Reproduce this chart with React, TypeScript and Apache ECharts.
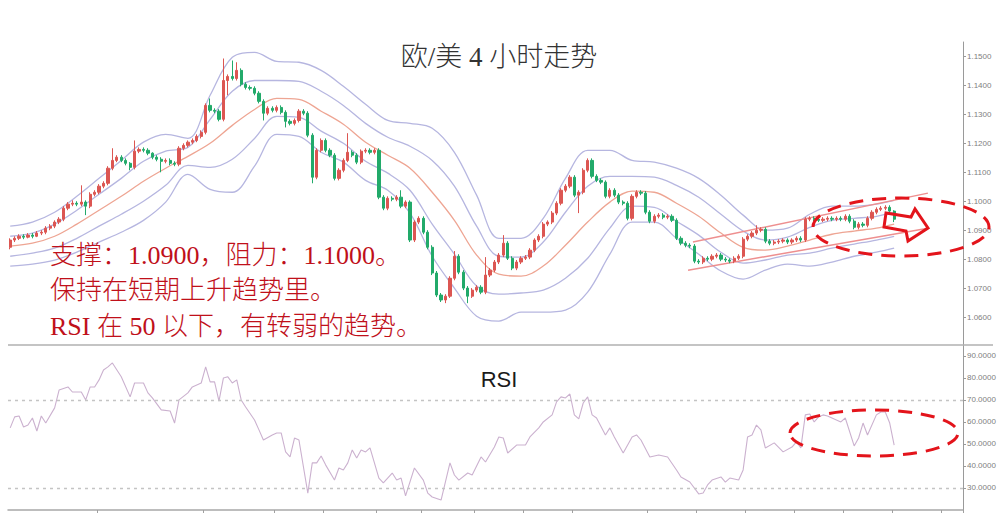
import React, { useEffect, useRef } from "react";
import * as echarts from "echarts";

// [open, close, low, high]
const candles: number[][] = [
  [1.0841,1.0866,1.0834,1.0872],[1.0866,1.0872,1.0859,1.0879],[1.0872,1.0879,1.0866,1.0886],[1.0879,1.0876,1.0869,1.0886],
  [1.0876,1.0883,1.0872,1.0890],[1.0883,1.0879,1.0872,1.0890],[1.0879,1.0890,1.0876,1.0897],[1.0890,1.0893,1.0883,1.0900],
  [1.0893,1.0907,1.0886,1.0914],[1.0907,1.0914,1.0900,1.0921],[1.0914,1.0928,1.0907,1.0934],[1.0928,1.0938,1.0921,1.0945],
  [1.0938,1.0976,1.0931,1.0983],[1.0976,1.0990,1.0969,1.0997],[1.0990,1.0993,1.0983,1.1003],[1.0993,1.0990,1.0983,1.1000],
  [1.0990,1.0997,1.0983,1.1055],[1.0997,1.0983,1.0952,1.1003],[1.0983,1.1024,1.0976,1.1031],[1.1024,1.1031,1.1017,1.1038],
  [1.1031,1.1052,1.1024,1.1059],[1.1052,1.1062,1.1045,1.1069],[1.1062,1.1114,1.1055,1.1121],[1.1114,1.1141,1.1107,1.1183],
  [1.1141,1.1152,1.1135,1.1159],[1.1152,1.1141,1.1135,1.1159],[1.1141,1.1131,1.1124,1.1148],[1.1131,1.1117,1.1107,1.1135],
  [1.1117,1.1173,1.1110,1.1210],[1.1173,1.1179,1.1166,1.1186],[1.1179,1.1176,1.1169,1.1186],[1.1176,1.1166,1.1159,1.1183],
  [1.1166,1.1152,1.1145,1.1169],[1.1152,1.1145,1.1138,1.1159],[1.1145,1.1138,1.1100,1.1152],[1.1138,1.1141,1.1131,1.1148],
  [1.1141,1.1131,1.1124,1.1148],[1.1131,1.1128,1.1121,1.1138],[1.1128,1.1183,1.1121,1.1190],[1.1183,1.1193,1.1176,1.1200],
  [1.1193,1.1204,1.1186,1.1210],[1.1204,1.1210,1.1197,1.1217],[1.1210,1.1224,1.1204,1.1231],[1.1224,1.1238,1.1217,1.1245],
  [1.1238,1.1331,1.1231,1.1338],[1.1331,1.1314,1.1307,1.1355],[1.1314,1.1311,1.1304,1.1321],[1.1311,1.1283,1.1276,1.1318],
  [1.1283,1.1417,1.1276,1.1493],[1.1417,1.1431,1.1366,1.1438],[1.1431,1.1424,1.1417,1.1486],[1.1424,1.1452,1.1417,1.1480],
  [1.1452,1.1404,1.1397,1.1459],[1.1404,1.1393,1.1386,1.1411],[1.1393,1.1390,1.1383,1.1400],[1.1390,1.1373,1.1366,1.1397],
  [1.1373,1.1345,1.1338,1.1380],[1.1345,1.1304,1.1279,1.1352],[1.1304,1.1321,1.1297,1.1328],[1.1321,1.1314,1.1307,1.1328],
  [1.1314,1.1324,1.1307,1.1331],[1.1324,1.1307,1.1300,1.1331],[1.1307,1.1276,1.1255,1.1314],[1.1276,1.1269,1.1262,1.1283],
  [1.1269,1.1279,1.1262,1.1286],[1.1279,1.1311,1.1272,1.1318],[1.1311,1.1304,1.1297,1.1318],[1.1304,1.1228,1.1221,1.1311],
  [1.1228,1.1083,1.1062,1.1235],[1.1083,1.1176,1.1076,1.1183],[1.1176,1.1210,1.1169,1.1217],[1.1210,1.1176,1.1169,1.1217],
  [1.1176,1.1159,1.1152,1.1183],[1.1159,1.1079,1.1072,1.1166],[1.1079,1.1107,1.1072,1.1114],[1.1107,1.1141,1.1100,1.1148],
  [1.1141,1.1169,1.1135,1.1235],[1.1169,1.1159,1.1152,1.1176],[1.1159,1.1135,1.1128,1.1166],[1.1135,1.1173,1.1128,1.1179],
  [1.1173,1.1176,1.1166,1.1183],[1.1176,1.1169,1.1162,1.1183],[1.1169,1.1176,1.1162,1.1183],[1.1176,1.1014,1.1007,1.1183],
  [1.1014,1.0976,1.0969,1.1021],[1.0976,1.1010,1.0969,1.1017],[1.1010,1.1007,1.1000,1.1017],[1.1007,1.1014,1.1000,1.1021],
  [1.1014,1.0983,1.0976,1.1038],[1.0983,1.0997,1.0976,1.1003],[1.0997,1.0866,1.0859,1.1003],[1.0866,1.0928,1.0859,1.0934],
  [1.0928,1.0941,1.0921,1.0948],[1.0941,1.0893,1.0886,1.0948],[1.0893,1.0841,1.0834,1.0900],[1.0841,1.0752,1.0745,1.0848],
  [1.0752,1.0676,1.0669,1.0759],[1.0676,1.0659,1.0652,1.0683],[1.0659,1.0672,1.0648,1.0679],[1.0672,1.0734,1.0666,1.0741],
  [1.0734,1.0810,1.0727,1.0828],[1.0810,1.0755,1.0748,1.0817],[1.0755,1.0700,1.0693,1.0762],[1.0700,1.0672,1.0648,1.0707],
  [1.0672,1.0693,1.0666,1.0700],[1.0693,1.0703,1.0686,1.0710],[1.0703,1.0686,1.0679,1.0710],[1.0686,1.0745,1.0679,1.0807],
  [1.0745,1.0762,1.0738,1.0769],[1.0762,1.0790,1.0755,1.0797],[1.0790,1.0814,1.0783,1.0821],[1.0814,1.0855,1.0807,1.0883],
  [1.0855,1.0803,1.0797,1.0862],[1.0803,1.0769,1.0762,1.0810],[1.0769,1.0790,1.0762,1.0797],[1.0790,1.0803,1.0783,1.0810],
  [1.0803,1.0807,1.0797,1.0814],[1.0807,1.0831,1.0800,1.0838],[1.0831,1.0866,1.0824,1.0872],[1.0866,1.0879,1.0859,1.0886],
  [1.0879,1.0921,1.0872,1.0928],[1.0921,1.0928,1.0914,1.0934],[1.0928,1.0959,1.0921,1.0966],[1.0959,1.0993,1.0952,1.1000],
  [1.0993,1.1038,1.0986,1.1045],[1.1038,1.1052,1.1031,1.1059],[1.1052,1.1083,1.1045,1.1090],[1.1083,1.1021,1.1014,1.1090],
  [1.1021,1.1031,1.0959,1.1038],[1.1031,1.1107,1.1024,1.1114],[1.1107,1.1141,1.1100,1.1148],[1.1141,1.1086,1.1079,1.1148],
  [1.1086,1.1072,1.1066,1.1093],[1.1072,1.1066,1.1059,1.1079],[1.1066,1.1017,1.1010,1.1072],[1.1017,1.1038,1.1010,1.1045],
  [1.1038,1.1021,1.1014,1.1045],[1.1021,1.0997,1.0990,1.1028],[1.0997,1.0993,1.0986,1.1003],[1.0993,1.0941,1.0934,1.1000],
  [1.0941,1.1017,1.0934,1.1024],[1.1017,1.1031,1.1010,1.1038],[1.1031,1.1028,1.1021,1.1038],[1.1028,1.0962,1.0955,1.1035],
  [1.0962,1.0931,1.0924,1.0969],[1.0931,1.0948,1.0924,1.0955],[1.0948,1.0952,1.0941,1.0959],[1.0952,1.0945,1.0938,1.0959],
  [1.0945,1.0948,1.0938,1.0955],[1.0948,1.0934,1.0928,1.0955],[1.0934,1.0872,1.0866,1.0941],[1.0872,1.0855,1.0848,1.0879],
  [1.0855,1.0848,1.0841,1.0862],[1.0848,1.0845,1.0838,1.0855],[1.0845,1.0793,1.0786,1.0852],[1.0793,1.0790,1.0783,1.0800],
  [1.0790,1.0803,1.0783,1.0810],[1.0803,1.0800,1.0793,1.0810],[1.0800,1.0810,1.0793,1.0817],[1.0810,1.0814,1.0803,1.0821],
  [1.0814,1.0800,1.0793,1.0821],[1.0800,1.0797,1.0790,1.0807],[1.0797,1.0793,1.0786,1.0803],[1.0793,1.0803,1.0786,1.0810],
  [1.0803,1.0810,1.0797,1.0817],[1.0810,1.0869,1.0803,1.0876],[1.0869,1.0879,1.0862,1.0886],[1.0879,1.0890,1.0872,1.0897],
  [1.0890,1.0900,1.0883,1.0917],[1.0900,1.0903,1.0893,1.0910],[1.0903,1.0862,1.0855,1.0910],[1.0862,1.0855,1.0848,1.0869],
  [1.0855,1.0859,1.0848,1.0866],[1.0859,1.0862,1.0852,1.0869],[1.0862,1.0866,1.0855,1.0872],[1.0866,1.0859,1.0852,1.0872],
  [1.0859,1.0866,1.0852,1.0872],[1.0866,1.0872,1.0859,1.0879],[1.0872,1.0866,1.0859,1.0879],[1.0866,1.0938,1.0859,1.0945],
  [1.0938,1.0941,1.0931,1.0948],[1.0941,1.0938,1.0931,1.0948],[1.0938,1.0934,1.0928,1.0945],[1.0934,1.0938,1.0928,1.0945],
  [1.0938,1.0941,1.0931,1.0948],[1.0941,1.0938,1.0931,1.0948],[1.0938,1.0941,1.0931,1.0948],[1.0941,1.0938,1.0931,1.0948],
  [1.0938,1.0948,1.0931,1.0955],[1.0948,1.0931,1.0924,1.0955],[1.0931,1.0910,1.0903,1.0938],[1.0910,1.0921,1.0903,1.0928],
  [1.0921,1.0917,1.0910,1.0928],[1.0917,1.0941,1.0910,1.0948],[1.0941,1.0962,1.0934,1.0969],[1.0962,1.0972,1.0955,1.0979],
  [1.0972,1.0976,1.0966,1.0983],[1.0976,1.0979,1.0969,1.0986],[1.0979,1.0966,1.0959,1.0986],[1.0966,1.0938,1.0928,1.0969],
];

// Bollinger band readings at every 5th bar
const bandIdx = [0,5,10,15,20,25,30,35,40,45,50,55,60,65,70,75,80,85,90,95,100,105,110,115,120,125,130,135,140,145,150,155,160,165,170,175,180,185,190,195,199];
const upper2 = [1.0914,1.0928,1.0962,1.1017,1.1079,1.1141,1.1204,1.1231,1.1217,1.1366,1.1497,1.1514,1.1483,1.1480,1.1452,1.1397,1.1335,1.1279,1.1269,1.1252,1.1169,1.1021,1.0872,1.0872,1.0941,1.1079,1.1176,1.1176,1.1141,1.1135,1.1114,1.1079,1.1021,1.0952,1.0900,1.0907,1.0955,1.0983,1.0983,1.0990,1.1003];
const upper1 = [1.0879,1.0890,1.0921,1.0969,1.1024,1.1079,1.1138,1.1173,1.1186,1.1283,1.1380,1.1417,1.1417,1.1414,1.1380,1.1331,1.1269,1.1221,1.1190,1.1141,1.1052,1.0914,1.0810,1.0807,1.0859,1.0962,1.1052,1.1086,1.1086,1.1083,1.1055,1.1014,1.0955,1.0897,1.0866,1.0876,1.0910,1.0934,1.0941,1.0948,1.0962];
const middle = [1.0845,1.0855,1.0879,1.0921,1.0969,1.1017,1.1069,1.1114,1.1155,1.1200,1.1262,1.1317,1.1355,1.1352,1.1311,1.1266,1.1204,1.1159,1.1114,1.1031,1.0934,1.0814,1.0748,1.0741,1.0776,1.0848,1.0928,1.0997,1.1035,1.1031,1.0993,1.0948,1.0890,1.0841,1.0831,1.0845,1.0866,1.0886,1.0897,1.0907,1.0921];
const lower1 = [1.0810,1.0821,1.0838,1.0872,1.0914,1.0955,1.1000,1.1055,1.1124,1.1117,1.1145,1.1217,1.1293,1.1290,1.1242,1.1200,1.1138,1.1097,1.1038,1.0921,1.0817,1.0707,1.0679,1.0683,1.0693,1.0734,1.0803,1.0907,1.0983,1.0979,1.0931,1.0883,1.0824,1.0786,1.0797,1.0814,1.0821,1.0838,1.0852,1.0866,1.0879];
const lower2 = [1.0776,1.0783,1.0797,1.0824,1.0859,1.0893,1.0934,1.0997,1.1093,1.1041,1.1031,1.1121,1.1231,1.1224,1.1169,1.1135,1.1072,1.1038,1.0959,1.0810,1.0700,1.0603,1.0586,1.0617,1.0617,1.0624,1.0686,1.0817,1.0928,1.0928,1.0872,1.0817,1.0759,1.0731,1.0762,1.0783,1.0776,1.0790,1.0810,1.0824,1.0838];

// hand-drawn channel lines [bar, price]
const trendUpper = [[153.7, 1.0859], [206.6, 1.1028]];
const trendLower = [[152.6, 1.0762], [206.6, 1.0907]];

// RSI readings [bar index] / [value]
const rsiIdx = [0,1,2,3,4,5,6,7,8,10,11,13,14,16,17,18,19,20,21,22,23,25,27,28,30,31,32,34,36,37,38,40,41,43,44,45,46,47,48,49,50,51,52,53,55,56,57,59,60,61,62,63,64,65,67,68,69,70,71,73,74,75,76,77,78,79,80,81,83,84,86,87,88,89,91,93,94,95,97,99,100,101,103,104,106,107,109,110,111,112,114,116,117,119,120,122,123,124,125,126,127,128,129,130,131,132,134,135,136,138,140,141,142,144,146,148,150,151,153,155,156,157,158,160,161,162,164,165,166,167,168,169,170,172,174,176,177,178,179,180,181,182,183,184,187,188,190,191,192,193,195,196,197,198,199];
const rsiVal = [57.3,62.3,62.7,57.7,58.6,61.8,55.9,62.7,59.5,66.4,74.5,75.9,73.6,73.6,70.0,75.9,75.9,79.1,83.6,85.0,86.8,80.5,71.4,77.7,77.7,73.2,70.9,65.5,65.0,59.5,70.0,73.2,75.9,77.7,85.0,78.2,78.2,69.5,80.0,80.5,77.7,79.1,70.0,66.8,60.9,56.4,51.8,54.1,55.0,55.0,46.4,44.1,52.7,51.8,27.7,41.4,41.4,44.5,40.5,33.6,39.1,38.2,41.4,47.3,43.6,47.3,46.4,48.2,34.5,32.3,36.8,33.6,34.5,26.4,39.1,33.6,27.7,25.9,24.5,41.4,35.9,33.6,36.8,35.9,44.1,41.8,48.6,53.2,52.7,45.9,49.5,49.5,53.2,57.3,60.0,63.2,69.1,71.4,70.9,72.7,63.2,61.4,68.6,71.4,63.2,61.8,54.1,57.3,53.2,45.9,53.2,54.1,51.8,44.1,45.0,44.1,38.2,35.0,32.7,27.3,27.7,31.4,33.6,35.0,32.7,34.5,33.6,38.2,53.2,54.1,58.6,56.4,48.2,50.5,46.4,48.6,50.9,48.2,63.2,63.6,60.0,62.3,63.2,62.7,60.0,61.8,49.1,52.7,59.5,54.1,63.2,64.5,64.5,59.5,49.5];
const rsiLevels = [70, 30];

const categoryCount = 215;
const xTickBars = [20,44,60,71,83,93,105,116,127,144,155,166,177,188,199,210];

const titleText = "欧/美 4 小时走势";
const rsiTitle = "RSI";
const noteLines = [
  "支撑：1.0900，阻力：1.1000。",
  "保持在短期上升趋势里。",
  "RSI 在 50 以下，有转弱的趋势。",
];

const pair = (idx: number[], vals: number[]) => idx.map((x, k) => [x, vals[k]]);

export default function App() {
  const ref = useRef<HTMLDivElement>(null);
  useEffect(() => {
    if (!ref.current) return;
    const chart = echarts.init(ref.current, undefined, { renderer: "svg" });
    const cats = Array.from({ length: categoryCount }, (_, i) => "B" + i);
    const tickSet = new Set(xTickBars);
    const bandLine = (name: string, vals: number[], color: string) => ({
      name,
      type: "line",
      xAxisIndex: 1,
      yAxisIndex: 0,
      data: pair(bandIdx, vals),
      smooth: 0.35,
      symbol: "none",
      silent: true,
      lineStyle: { color, width: 1.3 },
      z: 2,
    });
    const yLabel = {
      fontSize: 8,
      color: "#808080",
      margin: 4,
      fontFamily: "'Liberation Sans', Arial, sans-serif",
      showMinLabel: false,
      showMaxLabel: false,
      formatter: (v: number) => v.toFixed(4),
    };
    const red = "#e3141b";
    const option: any = {
      animation: false,
      backgroundColor: "#ffffff",
      grid: [
        { left: 8, right: 41, top: 42, height: 304 },
        { left: 8, right: 41, top: 346, height: 164 },
      ],
      xAxis: [
        { type: "category", gridIndex: 0, data: cats, show: false, axisLine: { onZero: false } },
        { type: "value", gridIndex: 0, min: -0.5, max: categoryCount - 0.5, show: false, axisLine: { onZero: false } },
        {
          type: "category",
          gridIndex: 1,
          data: cats,
          position: "bottom",
          axisLine: { show: true, onZero: false, lineStyle: { color: "#a8a8a8", width: 1.5 } },
          axisTick: { show: true, length: 3, interval: (i: number) => tickSet.has(i), lineStyle: { color: "#a0a0a0" } },
          axisLabel: { show: false },
          splitLine: { show: false },
        },
        { type: "value", gridIndex: 1, min: -0.5, max: categoryCount - 0.5, show: false, axisLine: { onZero: false } },
      ],
      yAxis: [
        {
          type: "value",
          gridIndex: 0,
          position: "right",
          min: 1.05,
          max: 1.155,
          interval: 0.01,
          axisLine: { show: true, onZero: false, lineStyle: { color: "#9a9a9a" } },
          axisTick: { show: true, length: 3, lineStyle: { color: "#9a9a9a" } },
          axisLabel: yLabel,
          splitLine: { show: false },
        },
        {
          type: "value",
          gridIndex: 1,
          position: "right",
          min: 20,
          max: 94.5,
          interval: 10,
          axisLine: { show: true, onZero: false, lineStyle: { color: "#9a9a9a" } },
          axisTick: { show: true, length: 3, lineStyle: { color: "#9a9a9a" } },
          axisLabel: yLabel,
          splitLine: { show: false },
        },
      ],
      series: [
        bandLine("upper2", upper2, "#b6b6e0"),
        bandLine("upper1", upper1, "#b6b6e0"),
        bandLine("middle", middle, "#eea593"),
        bandLine("lower1", lower1, "#b6b6e0"),
        bandLine("lower2", lower2, "#b6b6e0"),
        {
          type: "line", xAxisIndex: 1, yAxisIndex: 0, data: trendUpper, symbol: "none", silent: true,
          lineStyle: { color: "#ee8f8f", width: 1.5 }, z: 3,
        },
        {
          type: "line", xAxisIndex: 1, yAxisIndex: 0, data: trendLower, symbol: "none", silent: true,
          lineStyle: { color: "#ee8f8f", width: 1.5 }, z: 3,
        },
        {
          type: "candlestick",
          xAxisIndex: 0,
          yAxisIndex: 0,
          data: candles,
          barWidth: "62%",
          itemStyle: {
            color: "#dc5652",
            color0: "#22aa6a",
            borderColor: "#dc5652",
            borderColor0: "#22aa6a",
            borderWidth: 1,
          },
          z: 5,
        },
        {
          type: "line",
          xAxisIndex: 3,
          yAxisIndex: 1,
          data: pair(rsiIdx, rsiVal),
          symbol: "none",
          silent: true,
          lineStyle: { color: "#cbb1cf", width: 1.1 },
          markLine: {
            silent: true,
            symbol: ["none", "none"],
            label: { show: false },
            lineStyle: { color: "#c4c4c4", type: [3, 4], width: 1.3 },
            data: rsiLevels.map((v) => ({ yAxis: v })),
          },
        },
      ],
      graphic: [
        {
          type: "line",
          shape: { x1: 8, y1: 345, x2: 993, y2: 345 },
          style: { stroke: "#b0b0b0", lineWidth: 1.5 },
          z: 50,
        },
        {
          type: "text",
          x: 499,
          y: 57,
          z: 60,
          style: {
            text: titleText,
            fill: "#333333",
            fontSize: 27,
            fontWeight: 300,
            fontFamily: "'Liberation Serif', 'Noto Sans CJK SC', serif",
            textAlign: "center",
            align: "center",
            textVerticalAlign: "middle",
            verticalAlign: "middle",
          },
        },
        {
          type: "text",
          x: 499,
          y: 379,
          z: 60,
          style: {
            text: rsiTitle,
            fill: "#1a1a1a",
            fontSize: 22,
            fontFamily: "'Liberation Sans', Arial, sans-serif",
            textAlign: "center",
            align: "center",
            textVerticalAlign: "middle",
            verticalAlign: "middle",
          },
        },
        ...noteLines.map((t, k) => ({
          type: "text",
          x: 50,
          y: 255 + k * 35.5,
          z: 60,
          style: {
            text: t,
            fill: "#c0101a",
            fontSize: 26,
            fontWeight: 300,
            fontFamily: "'Liberation Serif', 'Noto Sans CJK SC', serif",
            textAlign: "left",
            align: "left",
            textVerticalAlign: "middle",
            verticalAlign: "middle",
          },
        })),
        {
          type: "ellipse",
          shape: { cx: 901, cy: 227, rx: 88, ry: 29 },
          style: { fill: "none", stroke: red, lineWidth: 3, lineDash: [14, 9] },
          z: 70,
        },
        {
          type: "polygon",
          shape: { points: [[886, 213], [911, 217], [915, 209], [928, 228], [908, 241], [906, 231], [884, 227]] },
          style: { fill: "none", stroke: red, lineWidth: 3 },
          z: 70,
        },
        {
          type: "ellipse",
          shape: { cx: 874, cy: 433, rx: 84, ry: 23 },
          style: { fill: "none", stroke: red, lineWidth: 3, lineDash: [14, 9] },
          z: 70,
        },
      ],
    };
    chart.setOption(option);
    return () => chart.dispose();
  }, []);
  return (
    <div
      ref={ref}
      style={{ position: "fixed", left: 0, top: 0, width: 1004, height: 514, background: "#fff" }}
    />
  );
}
